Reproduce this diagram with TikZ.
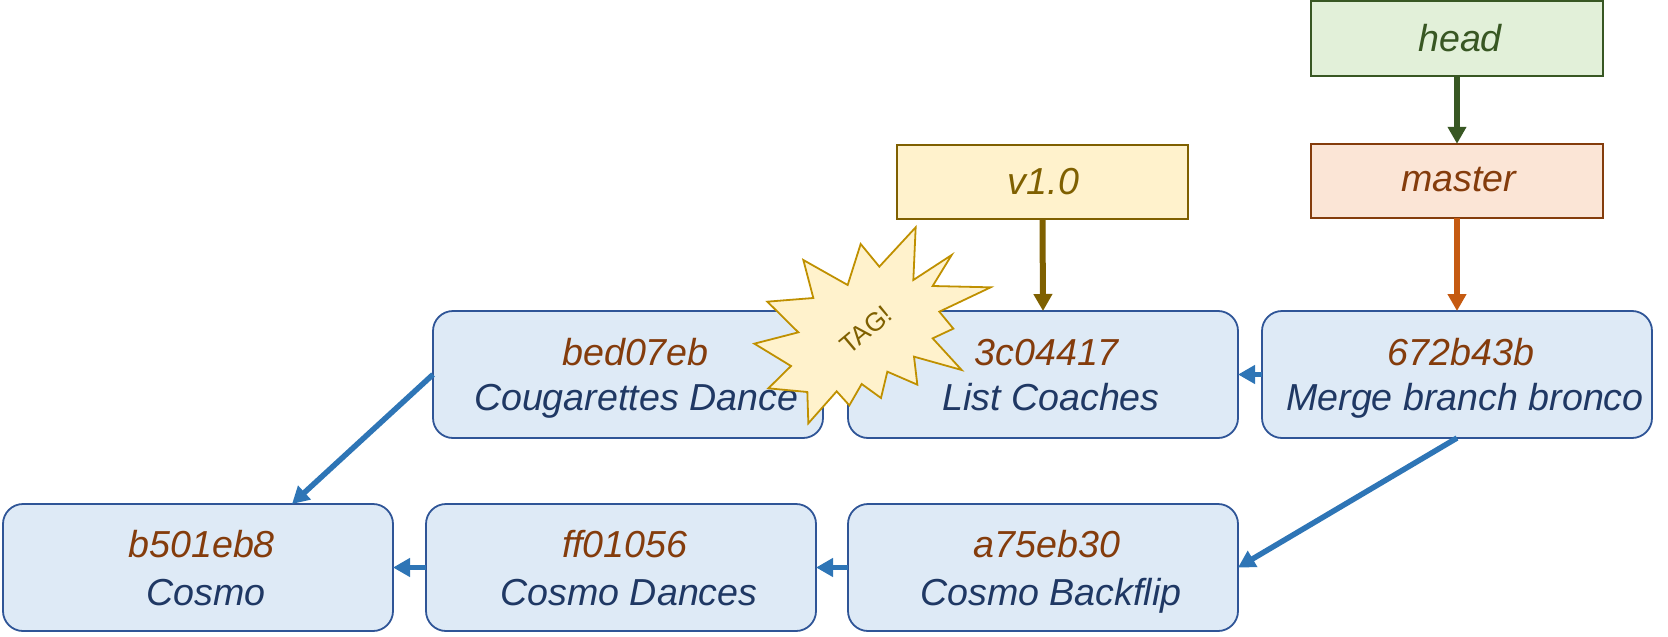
\documentclass[tikz,border=0pt]{standalone}
\usepackage{fontspec}
\setmainfont{Liberation Sans}
\usetikzlibrary{arrows.meta}
\definecolor{cfill}{HTML}{DEEAF6}
\definecolor{cline}{HTML}{2F5597}
\definecolor{ctext}{HTML}{1F3864}
\definecolor{hashc}{HTML}{843C0C}
\definecolor{arrowblue}{HTML}{2E75B6}
\definecolor{gfill}{HTML}{E2F0D9}
\definecolor{gline}{HTML}{385723}
\definecolor{ofill}{HTML}{FBE5D6}
\definecolor{oarrow}{HTML}{C55A11}
\definecolor{yfill}{HTML}{FFF2CC}
\definecolor{yline}{HTML}{7F6000}
\definecolor{starline}{HTML}{BF9000}
\newcommand{\rowgap}{0pt}
\newcommand{\commit}[3][7.5pt]{\hspace*{#1}\rule[-9pt]{0pt}{\dimexpr45pt+\rowgap\relax}\textcolor{hashc}{#2}\\\hspace*{16pt}\rule[-10pt]{0pt}{\dimexpr46pt+\rowgap\relax}#3}
\tikzset{
  x=1pt,y=-1pt,
  labelfont/.style={font=\fontsize{37.6}{45}\selectfont\itshape},
  commitbox/.style={labelfont,draw=cline,fill=cfill,text=ctext,line width=1.8pt,rounded corners=20pt,
    minimum width=390pt,minimum height=127pt,inner sep=0pt,outer sep=0pt,align=center},
  lowerrow/.style={commitbox,execute at begin node={\renewcommand{\rowgap}{1.5pt}}},
  refbox/.style={labelfont,line width=2pt,minimum width=292pt,minimum height=74.5pt,inner sep=0pt,outer sep=0pt,text depth=0pt},
  link/.style={line width=6pt,-{Triangle[length=17pt,width=18pt]}},
  commitlink/.style={link,line width=5.5pt,draw=arrowblue},
}
\begin{document}
\begin{tikzpicture}
\useasboundingbox (0,0) rectangle (1668,637);
\node[commitbox] (bed) at (628,374.5) {\commit[15pt]{bed07eb}{Cougarettes Dance}};
\node[commitbox] (list) at (1043,374.5) {\commit{3c04417}{List Coaches}};
\node[commitbox] (merge) at (1457,374.5) {\commit{672b43b}{Merge branch bronco}};
\node[lowerrow] (cosmo) at (198,567.5) {\commit{b501eb8}{Cosmo}};
\node[lowerrow] (dances) at (621,567.5) {\commit{ff01056}{Cosmo Dances}};
\node[lowerrow] (back) at (1043,567.5) {\commit{a75eb30}{Cosmo Backflip}};
\node[refbox,draw=gline,fill=gfill,text=gline,text height=26pt] (head) at (1457,38.5) {\hspace*{6pt}head};
\node[refbox,draw=hashc,fill=ofill,text=hashc,text height=21pt] (master) at (1457,181) {\hspace*{3pt}master};
\node[refbox,minimum width=291pt,draw=yline,fill=yfill,text=yline,text height=24pt] (tag) at (1042.5,182) {\hspace*{2pt}v1.0};
\draw[link,draw=gline,fill=gline] (head.south) -- (master.north);
\draw[link,draw=oarrow,fill=oarrow] (master.south) -- (merge.north);
\draw[link,draw=yline,fill=yline] (tag.south) -- (list.north);
\draw[commitlink] (merge.west) -- (list.east);
\draw[commitlink] (merge.south) -- (back.east);
\draw[commitlink] (back.west) -- (dances.east);
\draw[commitlink] (dances.west) -- (cosmo.east);
\draw[commitlink] (bed.west) -- ([xshift=94pt]cosmo.north);
\begin{scope}[shift={(750,220)},x=0.33333pt,y=-0.33333pt]
\draw[draw=starline,fill=yfill,line width=1.8pt,line join=miter,miter limit=10]
 (497,22)--(490,180)--(605,105)--(548,198)--(722,202)--(568,275)--(610,326)--(548,355)--(635,450)
 --(492,410)--(502,494)--(412,455)--(393,534)--(335,492)--(298,556)--(260,514)--(175,610)--(172,516)
 --(55,505)--(123,438)--(13,371)--(145,337)--(52,245)--(190,234)--(160,120)--(293,195)--(332,72)--(388,140)--cycle;
\node[font=\fontsize{26}{30}\selectfont,text=yline,rotate=40,inner sep=0pt] (burst) at (348,330) {TAG!};
\end{scope}
\end{tikzpicture}
\end{document}
